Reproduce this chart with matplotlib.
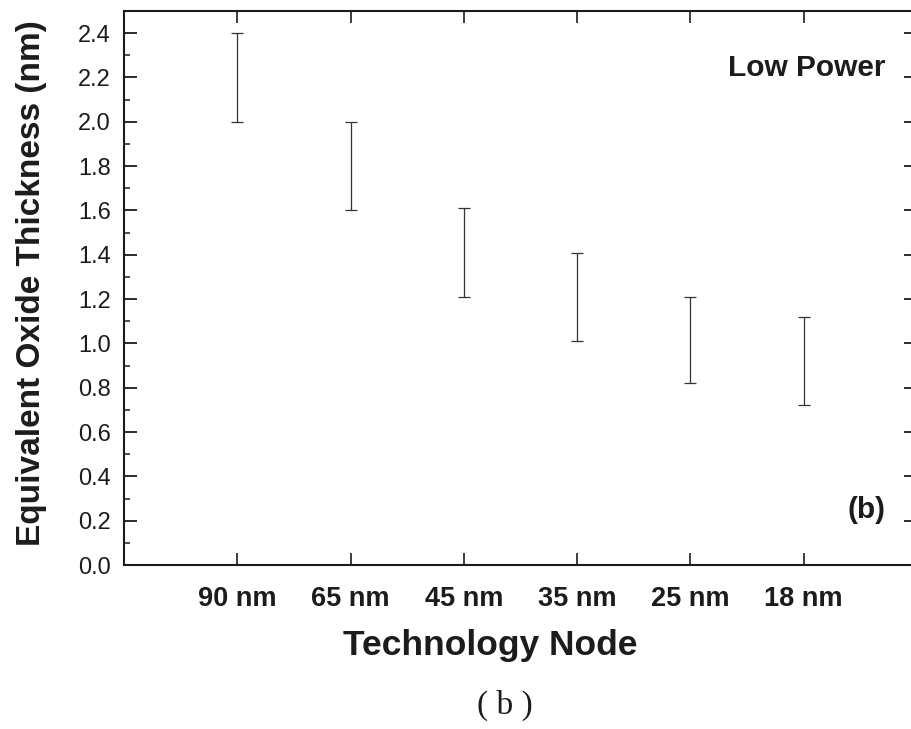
import matplotlib
matplotlib.use("Agg")
import matplotlib.pyplot as plt
from matplotlib.ticker import MultipleLocator, FormatStrFormatter

# EOT range per technology node (low / high end of each bar)
nodes = ['90 nm', '65 nm', '45 nm', '35 nm', '25 nm', '18 nm']
eot_low = [2.00, 1.60, 1.21, 1.01, 0.82, 0.72]
eot_high = [2.40, 2.00, 1.61, 1.41, 1.21, 1.12]

plt.rcParams['font.family'] = ['Liberation Sans', 'DejaVu Sans']
ink = '#1c1c1c'

fig = plt.figure(figsize=(9.11, 7.29), dpi=100)
fig.patch.set_facecolor('white')
# right spine sits just past the cropped edge, as in the scan
ax = fig.add_axes([124 / 911, 1 - 565 / 729, 793 / 911, 554 / 729])

xpos = list(range(1, len(nodes) + 1))
centers = [(lo + hi) / 2 for lo, hi in zip(eot_low, eot_high)]
halves = [(hi - lo) / 2 for lo, hi in zip(eot_low, eot_high)]
ax.errorbar(xpos, centers, yerr=halves, fmt='none', ecolor='#333333',
            elinewidth=0.9, capsize=4.5, capthick=0.9)

ax.set_xlim(0, 7)
ax.set_ylim(0, 2.5)
ax.set_xticks(xpos)
ax.set_xticklabels(nodes, fontsize=19.5, fontweight='bold', color=ink)
ax.yaxis.set_major_locator(MultipleLocator(0.2))
ax.yaxis.set_minor_locator(MultipleLocator(0.1))
ax.yaxis.set_major_formatter(FormatStrFormatter('%.1f'))

ax.tick_params(axis='y', which='major', direction='in', length=9.5, width=1.3,
               right=True, labelsize=17, labelcolor=ink, pad=9.5, color=ink)
ax.tick_params(axis='y', which='minor', direction='in', length=4.5, width=1.1,
               right=True, color=ink)
ax.tick_params(axis='x', which='major', direction='in', length=8.5, width=1.2,
               top=True, pad=15, color=ink)

for side in ['left', 'bottom', 'top', 'right']:
    ax.spines[side].set_linewidth(1.5)
    ax.spines[side].set_color(ink)

ax.set_ylabel('Equivalent Oxide Thickness (nm)', fontsize=24, fontweight='bold', color=ink)
ax.yaxis.set_label_coords(-0.097, 0.509)
ax.set_xlabel('Technology Node', fontsize=25.5, fontweight='bold', color=ink)
ax.xaxis.set_label_coords(0.4615, -0.116)

ax.text(0.96, 0.897, 'Low Power', transform=ax.transAxes, ha='right', va='center',
        fontsize=21.5, fontweight='bold', color=ink)
ax.text(0.96, 0.099, '(b)', transform=ax.transAxes, ha='right', va='center',
        fontsize=21.5, fontweight='bold', color=ink)

# figure caption under the chart
fig.text(505 / 911, 1 - 705 / 729, '( b )', ha='center', va='center',
         fontsize=24, family=['Liberation Serif', 'DejaVu Serif'], color=ink)

fig.savefig('out.png', dpi=100, facecolor='white')
plt.close(fig)
